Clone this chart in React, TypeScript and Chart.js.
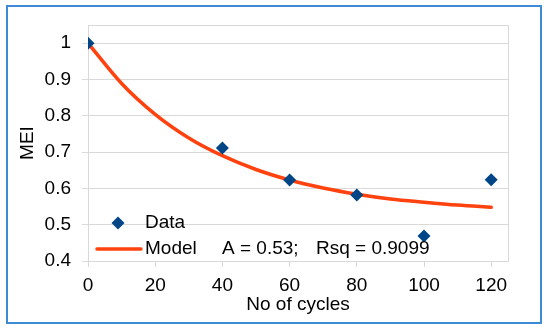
import React, { useEffect, useRef } from "react";
import { Chart, registerables } from "chart.js";

Chart.register(...registerables);

const dataCycles = [0, 40, 60, 80, 100, 120];
const dataMEI = [1.0, 0.711, 0.623, 0.582, 0.469, 0.624];

const modelCycles = [0, 10, 20, 30, 40, 50, 60, 70, 80, 90, 100, 110, 120];
const modelMEI = [1.0, 0.889, 0.804, 0.739, 0.69, 0.652, 0.623, 0.601, 0.584, 0.571, 0.562, 0.554, 0.548];

const xTickValues = [0, 20, 40, 60, 80, 100, 120];
const yTickValues = [0.4, 0.5, 0.6, 0.7, 0.8, 0.9, 1.0];

const dataLabel = "Data";
const modelLabel = "Model";
const modelNoteA = "A = 0.53;";
const modelNoteR = "Rsq = 0.9099";
const xTitle = "No of cycles";
const yTitle = "MEI";

const FONT = '"Liberation Sans", Arial, sans-serif';
const FS = 19;
const GRID = "#d9d9d9";
const BLUE = "#004586";
const ORANGE = "#ff420e";

const framePlugin = {
  id: "frameAndLegend",
  beforeDatasetsDraw(chart: any) {
    const { ctx, chartArea } = chart;
    ctx.save();
    ctx.strokeStyle = GRID;
    ctx.lineWidth = 1;
    ctx.strokeRect(
      Math.round(chartArea.left) + 0.5,
      Math.round(chartArea.top) + 0.5,
      Math.round(chartArea.right - chartArea.left),
      Math.round(chartArea.bottom - chartArea.top)
    );
    ctx.restore();
  },
  afterDraw(chart: any) {
    const { ctx, chartArea } = chart;
    ctx.save();
    // outer border
    ctx.strokeStyle = "#3d8bd6";
    ctx.lineWidth = 2;
    ctx.strokeRect(7, 6, 534, 317);
    // legend
    const l = chartArea.left;
    const b = chartArea.bottom;
    const dy = b - 38;
    const my = b - 12;
    ctx.fillStyle = BLUE;
    ctx.beginPath();
    const cx = l + 30;
    const r = 6.5;
    ctx.moveTo(cx, dy - r);
    ctx.lineTo(cx + r, dy);
    ctx.lineTo(cx, dy + r);
    ctx.lineTo(cx - r, dy);
    ctx.closePath();
    ctx.fill();
    ctx.strokeStyle = ORANGE;
    ctx.lineWidth = 3.5;
    ctx.lineCap = "round";
    ctx.beginPath();
    ctx.moveTo(l + 9, my);
    ctx.lineTo(l + 53, my);
    ctx.stroke();
    ctx.fillStyle = "#000";
    ctx.font = FS + "px " + FONT;
    ctx.textBaseline = "middle";
    ctx.textAlign = "left";
    ctx.fillText(dataLabel, l + 57, dy);
    ctx.fillText(modelLabel, l + 57, my);
    ctx.fillText(modelNoteA, l + 134, my);
    ctx.fillText(modelNoteR, l + 228, my);
    ctx.restore();
  },
};

export default function App() {
  const ref = useRef<HTMLCanvasElement | null>(null);
  useEffect(() => {
    document.body.style.margin = "0";
    const canvas = ref.current!;
    const chart = new Chart(canvas, {
      type: "scatter",
      data: {
        datasets: [
          {
            label: dataLabel,
            data: dataCycles.map((x, i) => ({ x, y: dataMEI[i] })),
            pointStyle: "rectRot",
            pointRadius: 6.5,
            pointHoverRadius: 6.5,
            backgroundColor: BLUE,
            borderColor: BLUE,
            borderWidth: 0,
            showLine: false,
            order: 0,
          },
          {
            label: modelLabel,
            type: "line",
            data: modelCycles.map((x, i) => ({ x, y: modelMEI[i] })),
            borderColor: ORANGE,
            backgroundColor: ORANGE,
            borderWidth: 3.5,
            pointRadius: 0,
            showLine: true,
            cubicInterpolationMode: "monotone",
            borderCapStyle: "round",
            fill: false,
            order: 1,
          } as any,
        ],
      },
      plugins: [framePlugin],
      options: {
        animation: false,
        responsive: false,
        layout: { padding: { top: 25, right: 42, left: 0, bottom: 0 } },
        plugins: { legend: { display: false }, tooltip: { enabled: false } },
        scales: {
          x: {
            type: "linear",
            min: 0,
            max: 125,
            afterBuildTicks: (axis: any) => {
              axis.ticks = xTickValues.map((v) => ({ value: v }));
            },
            afterFit: (scale: any) => {
              scale.height = 69;
            },
            ticks: {
              padding: 7,
              color: "#000",
              font: { size: FS, family: FONT },
              maxRotation: 0,
              autoSkip: false,
              callback: (v: any) => String(v),
            },
            grid: { drawOnChartArea: false, tickLength: 6, color: GRID },
            border: { display: true, color: GRID },
            title: {
              display: true,
              text: xTitle,
              color: "#000",
              font: { size: FS, family: FONT },
              padding: { top: 0, bottom: 14 },
            },
          },
          y: {
            type: "linear",
            min: 0.4,
            max: 1.05,
            afterBuildTicks: (axis: any) => {
              axis.ticks = yTickValues.map((v) => ({ value: v }));
            },
            afterFit: (scale: any) => {
              scale.width = 88;
            },
            ticks: {
              padding: 11,
              color: "#000",
              autoSkip: false,
              font: { size: FS, family: FONT },
              callback: (v: any) => String(Math.round(Number(v) * 10) / 10),
            },
            grid: { tickLength: 6, color: GRID },
            border: { display: true, color: GRID },
            title: {
              display: true,
              text: yTitle,
              color: "#000",
              font: { size: FS, family: FONT },
              padding: { top: 16, bottom: 0 },
            },
          },
        },
      },
    });
    return () => chart.destroy();
  }, []);
  return <canvas ref={ref} width={550} height={330} style={{ display: "block" }} />;
}
